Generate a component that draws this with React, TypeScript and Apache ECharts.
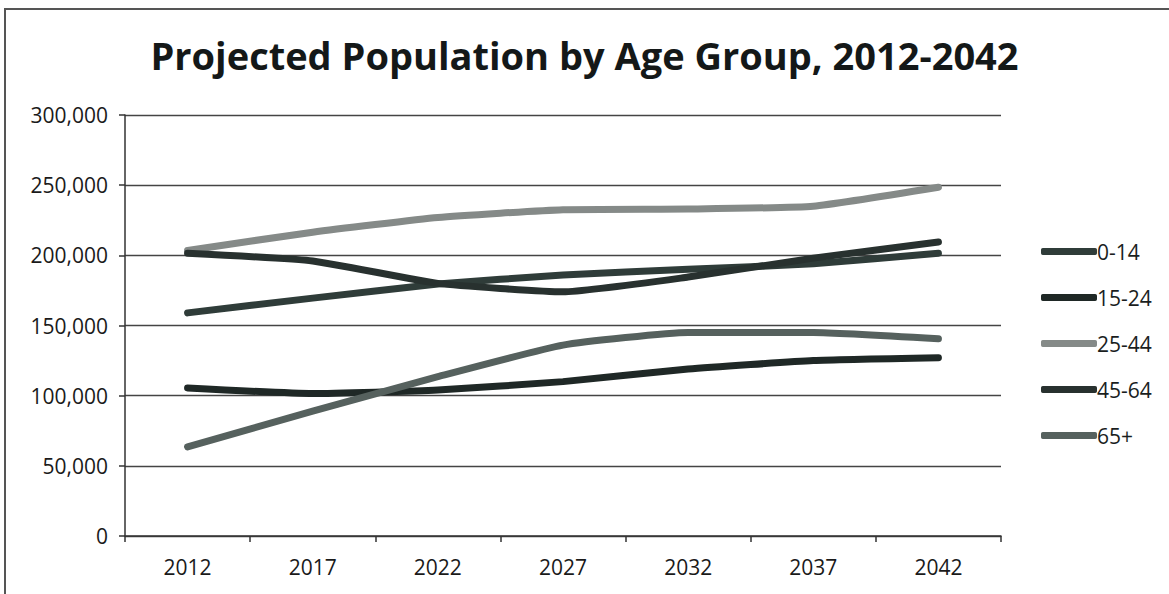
import React, { useEffect, useRef } from "react";
import * as echarts from "echarts";

const years = ["2012", "2017", "2022", "2027", "2032", "2037", "2042"];
const seriesNames = ["0-14", "15-24", "25-44", "45-64", "65+"];
const age0to14 = [159000, 169500, 179500, 186000, 190000, 194000, 201500];
const age15to24 = [105500, 101500, 104000, 110000, 119000, 125000, 127000];
const age25to44 = [203500, 216500, 227000, 232500, 233000, 235000, 248500];
const age45to64 = [201500, 196000, 180000, 174000, 184500, 198000, 209500];
const age65plus = [63500, 89000, 113500, 136000, 145000, 145000, 140500];
const yTicks = [0, 50000, 100000, 150000, 200000, 250000, 300000];

const colors = ["#2f3c39", "#1f2826", "#858a88", "#28312f", "#56615e"];

export default function App() {
  const ref = useRef<HTMLDivElement>(null);
  useEffect(() => {
    document.body.style.margin = "0";
    const chart = echarts.init(ref.current!, null, { renderer: "svg" });
    const data = [age0to14, age15to24, age25to44, age45to64, age65plus];
    chart.setOption({
      animation: false,
      backgroundColor: "#ffffff",
      textStyle: { fontFamily: "Open Sans" },
      title: {
        text: "Projected Population by Age Group, 2012-2042",
        left: "center",
        top: 31,
        textStyle: { fontFamily: "Open Sans", fontWeight: "bold", fontSize: 38, color: "#141818" },
      },
      graphic: [
        {
          type: "rect",
          shape: { x: 5, y: 9, width: 1200, height: 620 },
          style: { fill: "none", stroke: "#555", lineWidth: 2 },
          silent: true,
        },
      ],
      legend: {
        orient: "vertical",
        left: 1036,
        top: 236,
        itemGap: 25,
        itemWidth: 56,
        itemHeight: 7,
        icon: "roundRect",
        data: seriesNames,
        textStyle: { fontSize: 21, color: "#1a1e1e", padding: [0, 0, 0, -5] },
      },
      grid: { left: 125, right: 168, top: 115, bottom: 58 },
      xAxis: {
        type: "category",
        data: years,
        boundaryGap: true,
        axisLine: { lineStyle: { color: "#333", width: 1.5 } },
        axisTick: { show: true, length: 6, lineStyle: { color: "#333", width: 1.5 } },
        axisLabel: { fontSize: 21, color: "#1a1a1a", margin: 20 },
      },
      yAxis: {
        type: "value",
        min: 0,
        max: 300000,
        interval: 50000,
        axisLine: { show: true, lineStyle: { color: "#333", width: 1.5 } },
        axisTick: { show: true, length: 6, lineStyle: { color: "#333", width: 1.5 } },
        splitLine: { lineStyle: { color: "#444", width: 1.3 } },
        axisLabel: {
          fontSize: 21,
          color: "#1a1a1a",
          margin: 17,
          formatter: (v: number) => (yTicks.includes(v) ? v.toLocaleString("en-US") : ""),
        },
      },
      series: seriesNames.map((name, i) => ({
        name,
        type: "line",
        data: data[i],
        smooth: 0.15,
        symbol: "none",
        lineStyle: { width: 7, color: colors[i], cap: "round", join: "round" },
        itemStyle: { color: colors[i] },
      })),
    });
    return () => chart.dispose();
  }, []);
  return <div ref={ref} style={{ width: 1169, height: 594, position: "absolute", left: 0, top: 0 }} />;
}
